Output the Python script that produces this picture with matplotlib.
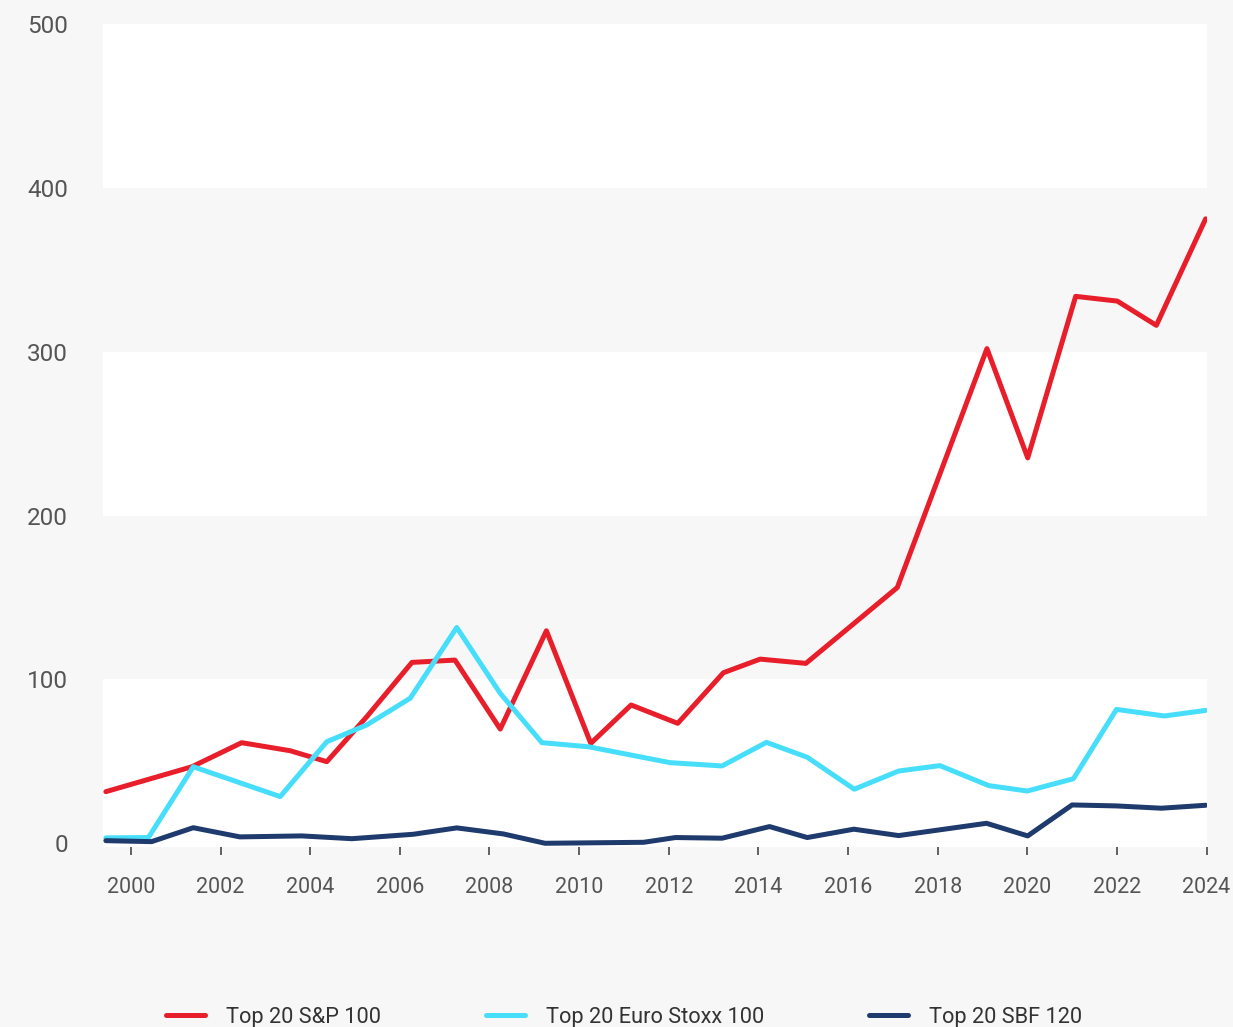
import numpy as np
import matplotlib
matplotlib.use("Agg")
import matplotlib.pyplot as plt

plt.rcParams['font.family'] = ['Roboto', 'DejaVu Sans']

# values (x in fractional years)
sp_x = [1999.44, 2001.36, 2002.47, 2003.55, 2004.37, 2005.26, 2006.27, 2007.23,
        2008.24, 2009.27, 2010.26, 2011.16, 2012.20, 2013.22, 2014.04, 2015.06,
        2017.10, 2019.10, 2020.01, 2021.08, 2022.01, 2022.88, 2023.98]
sp_y = [31.5, 46.7, 61.4, 56.5, 49.8, 77.2, 110.4, 111.8,
        69.7, 129.7, 61.0, 84.4, 73.2, 104.1, 112.4, 109.8,
        156.1, 301.9, 235.2, 333.8, 330.9, 316.1, 381.1]

euro_x = [1999.44, 2000.39, 2001.39, 2003.33, 2004.37, 2005.26, 2006.23, 2007.27,
          2008.24, 2009.17, 2010.21, 2012.03, 2013.19, 2014.18, 2015.09, 2016.14,
          2017.13, 2018.05, 2019.14, 2020.00, 2021.03, 2021.99, 2023.06, 2023.98]
euro_y = [3.3, 3.5, 46.7, 28.5, 62.0, 72.2, 88.5, 131.7,
          91.5, 61.4, 58.9, 49.2, 47.2, 61.6, 52.5, 33.0,
          44.1, 47.4, 35.2, 31.9, 39.4, 81.7, 77.7, 81.1]

sbf_x = [1999.44, 2000.46, 2001.39, 2002.43, 2003.81, 2004.93, 2006.30, 2007.27,
         2008.31, 2009.24, 2011.44, 2012.15, 2013.19, 2014.25, 2015.09, 2016.13,
         2017.13, 2019.09, 2020.01, 2021.00, 2021.99, 2022.99, 2023.98]
sbf_y = [1.6, 1.0, 9.5, 3.9, 4.5, 2.8, 5.5, 9.4,
         5.7, 0.0, 0.6, 3.5, 3.1, 10.2, 3.5, 8.6,
         4.7, 12.2, 4.5, 23.4, 22.8, 21.4, 23.2]

labels = ["Top 20 S&P 100", "Top 20 Euro Stoxx 100", "Top 20 SBF 120"]
colors = ["#E81E2B", "#47DEFB", "#1F3A6C"]
year_ticks = list(range(2000, 2025, 2))
y_ticks = [0, 100, 200, 300, 400, 500]

bg = "#f7f7f7"
fig = plt.figure(figsize=(12.33, 10.27), dpi=100, facecolor=bg)
ax = fig.add_axes([0.0835, 0.1757, 0.8954, 0.8009])
ax.set_facecolor(bg)

# alternating white bands
for lo, hi in [(-5, 100), (200, 300), (400, 505)]:
    ax.axhspan(lo, hi, color="white", lw=0, zorder=0)

for xs, ys, lab, col in zip([sp_x, euro_x, sbf_x], [sp_y, euro_y, sbf_y], labels, colors):
    ax.plot(xs, ys, color=col, lw=3.6, label=lab, solid_joinstyle="round",
            solid_capstyle="round", zorder=3)

ax.set_xlim(1999.375, 2024.01)
ax.set_ylim(-2, 500)
ax.set_xticks(year_ticks)
ax.set_xticklabels([str(y) for y in year_ticks])
ax.set_yticks(y_ticks)

for s in ax.spines.values():
    s.set_visible(False)

ax.tick_params(axis="x", length=6, width=1.3, color="#555555", pad=16,
               labelsize=15.5, labelcolor="#555555")
ax.tick_params(axis="y", length=0, pad=25, labelsize=17.5, labelcolor="#555555")

fig.legend(loc="center", bbox_to_anchor=(0.5060, 0.0095), ncol=3, frameon=False,
           fontsize=15.7, handlelength=1.8, handletextpad=0.95, columnspacing=4.8,
           labelcolor="#333333")

fig.savefig("out.png", dpi=100, facecolor=bg)
